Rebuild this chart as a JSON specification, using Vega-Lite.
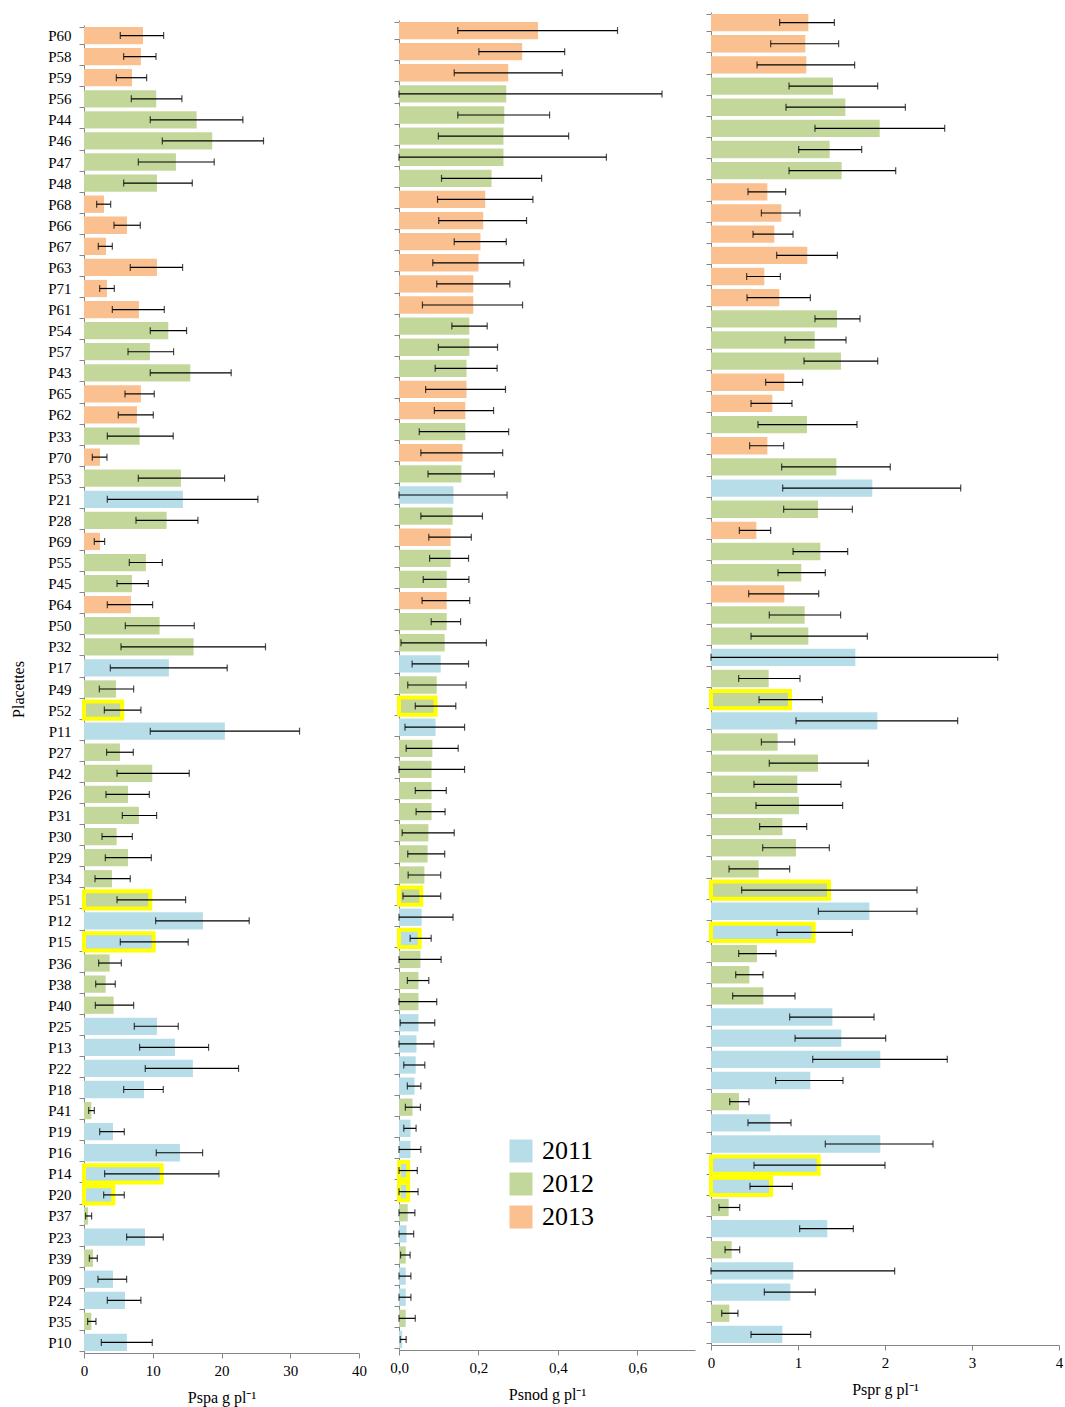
{
  "$schema": "https://vega.github.io/schema/vega-lite/v6.json",
  "background": "white",
  "padding": {"left": 10, "top": 5, "right": 2, "bottom": 2},
  "config": {
    "font": "Liberation Serif",
    "view": {"stroke": null},
    "legend": {"labelFont": "Liberation Serif"},
    "axis": {
      "domainColor": "#868686", "tickColor": "#868686", "labelColor": "black", "titleColor": "black",
      "titleFontWeight": "normal", "grid": false, "tickSize": 5, "labelFontSize": 15, "titleFontSize": 16,
      "labelFont": "Liberation Serif", "titleFont": "Liberation Serif"
    }
  },
  "data": {"values": [
    {"P":"P60","year":"2013","spa":8.58,"spa_lo":5.28,"spa_hi":11.58,"snod":0.350,"snod_lo":0.148,"snod_hi":0.550,"spr":1.119,"spr_lo":0.789,"spr_hi":1.418},
    {"P":"P58","year":"2013","spa":8.28,"spa_lo":5.77,"spa_hi":10.47,"snod":0.310,"snod_lo":0.201,"snod_hi":0.417,"spr":1.084,"spr_lo":0.686,"spr_hi":1.467},
    {"P":"P59","year":"2013","spa":6.98,"spa_lo":4.70,"spa_hi":9.11,"snod":0.275,"snod_lo":0.139,"snod_hi":0.411,"spr":1.096,"spr_lo":0.529,"spr_hi":1.651},
    {"P":"P56","year":"2012","spa":10.51,"spa_lo":6.88,"spa_hi":14.24,"snod":0.270,"snod_lo":0,"snod_hi":0.662,"spr":1.402,"spr_lo":0.897,"spr_hi":1.916},
    {"P":"P44","year":"2012","spa":16.38,"spa_lo":9.64,"spa_hi":23.11,"snod":0.265,"snod_lo":0.148,"snod_hi":0.379,"spr":1.544,"spr_lo":0.862,"spr_hi":2.234},
    {"P":"P46","year":"2012","spa":18.65,"spa_lo":11.39,"spa_hi":26.11,"snod":0.263,"snod_lo":0.099,"snod_hi":0.427,"spr":1.939,"spr_lo":1.195,"spr_hi":2.686},
    {"P":"P47","year":"2012","spa":13.37,"spa_lo":7.90,"spa_hi":18.94,"snod":0.263,"snod_lo":0,"snod_hi":0.522,"spr":1.364,"spr_lo":1.008,"spr_hi":1.732},
    {"P":"P48","year":"2012","spa":10.61,"spa_lo":5.77,"spa_hi":15.75,"snod":0.233,"snod_lo":0.107,"snod_hi":0.359,"spr":1.502,"spr_lo":0.897,"spr_hi":2.123},
    {"P":"P68","year":"2013","spa":2.91,"spa_lo":1.84,"spa_hi":3.88,"snod":0.217,"snod_lo":0.097,"snod_hi":0.337,"spr":0.648,"spr_lo":0.425,"spr_hi":0.858},
    {"P":"P66","year":"2013","spa":6.25,"spa_lo":4.36,"spa_hi":8.19,"snod":0.212,"snod_lo":0.100,"snod_hi":0.321,"spr":0.808,"spr_lo":0.579,"spr_hi":1.023},
    {"P":"P67","year":"2013","spa":3.20,"spa_lo":2.08,"spa_hi":4.12,"snod":0.205,"snod_lo":0.139,"snod_hi":0.270,"spr":0.728,"spr_lo":0.483,"spr_hi":0.943},
    {"P":"P63","year":"2013","spa":10.61,"spa_lo":6.73,"spa_hi":14.34,"snod":0.200,"snod_lo":0.085,"snod_hi":0.314,"spr":1.107,"spr_lo":0.755,"spr_hi":1.452},
    {"P":"P71","year":"2013","spa":3.34,"spa_lo":2.28,"spa_hi":4.41,"snod":0.187,"snod_lo":0.095,"snod_hi":0.279,"spr":0.613,"spr_lo":0.410,"spr_hi":0.797},
    {"P":"P61","year":"2013","spa":7.99,"spa_lo":4.12,"spa_hi":11.68,"snod":0.187,"snod_lo":0.059,"snod_hi":0.311,"spr":0.785,"spr_lo":0.414,"spr_hi":1.142},
    {"P":"P54","year":"2012","spa":12.26,"spa_lo":9.64,"spa_hi":14.92,"snod":0.177,"snod_lo":0.133,"snod_hi":0.222,"spr":1.448,"spr_lo":1.195,"spr_hi":1.713},
    {"P":"P57","year":"2012","spa":9.59,"spa_lo":6.40,"spa_hi":13.03,"snod":0.177,"snod_lo":0.099,"snod_hi":0.248,"spr":1.192,"spr_lo":0.851,"spr_hi":1.552},
    {"P":"P43","year":"2012","spa":15.46,"spa_lo":9.64,"spa_hi":21.41,"snod":0.170,"snod_lo":0.091,"snod_hi":0.247,"spr":1.494,"spr_lo":1.069,"spr_hi":1.916},
    {"P":"P65","year":"2013","spa":8.28,"spa_lo":5.96,"spa_hi":10.22,"snod":0.170,"snod_lo":0.067,"snod_hi":0.268,"spr":0.843,"spr_lo":0.628,"spr_hi":1.054},
    {"P":"P62","year":"2013","spa":7.70,"spa_lo":4.99,"spa_hi":10.08,"snod":0.167,"snod_lo":0.089,"snod_hi":0.238,"spr":0.705,"spr_lo":0.460,"spr_hi":0.931},
    {"P":"P33","year":"2012","spa":8.09,"spa_lo":3.39,"spa_hi":12.98,"snod":0.167,"snod_lo":0.051,"snod_hi":0.276,"spr":1.103,"spr_lo":0.540,"spr_hi":1.678},
    {"P":"P70","year":"2013","spa":2.33,"spa_lo":1.21,"spa_hi":3.34,"snod":0.160,"snod_lo":0.055,"snod_hi":0.261,"spr":0.648,"spr_lo":0.444,"spr_hi":0.835},
    {"P":"P53","year":"2012","spa":14.10,"spa_lo":7.90,"spa_hi":20.45,"snod":0.157,"snod_lo":0.073,"snod_hi":0.240,"spr":1.441,"spr_lo":0.812,"spr_hi":2.061},
    {"P":"P21","year":"2011","spa":14.39,"spa_lo":3.39,"spa_hi":25.29,"snod":0.137,"snod_lo":0,"snod_hi":0.272,"spr":1.854,"spr_lo":0.824,"spr_hi":2.870},
    {"P":"P28","year":"2012","spa":12.02,"spa_lo":7.56,"spa_hi":16.57,"snod":0.135,"snod_lo":0.055,"snod_hi":0.210,"spr":1.230,"spr_lo":0.835,"spr_hi":1.625},
    {"P":"P69","year":"2013","spa":2.33,"spa_lo":1.50,"spa_hi":3.00,"snod":0.130,"snod_lo":0.075,"snod_hi":0.182,"spr":0.521,"spr_lo":0.326,"spr_hi":0.686},
    {"P":"P55","year":"2012","spa":9.01,"spa_lo":6.59,"spa_hi":11.39,"snod":0.130,"snod_lo":0.077,"snod_hi":0.175,"spr":1.257,"spr_lo":0.943,"spr_hi":1.571},
    {"P":"P45","year":"2012","spa":6.98,"spa_lo":4.80,"spa_hi":9.35,"snod":0.120,"snod_lo":0.061,"snod_hi":0.176,"spr":1.038,"spr_lo":0.770,"spr_hi":1.314},
    {"P":"P64","year":"2013","spa":6.83,"spa_lo":3.39,"spa_hi":9.98,"snod":0.120,"snod_lo":0.058,"snod_hi":0.178,"spr":0.843,"spr_lo":0.433,"spr_hi":1.238},
    {"P":"P50","year":"2012","spa":11.00,"spa_lo":6.01,"spa_hi":16.04,"snod":0.120,"snod_lo":0.081,"snod_hi":0.155,"spr":1.077,"spr_lo":0.670,"spr_hi":1.490},
    {"P":"P32","year":"2012","spa":15.94,"spa_lo":5.38,"spa_hi":26.40,"snod":0.115,"snod_lo":0.005,"snod_hi":0.220,"spr":1.119,"spr_lo":0.460,"spr_hi":1.797},
    {"P":"P17","year":"2011","spa":12.35,"spa_lo":3.83,"spa_hi":20.83,"snod":0.105,"snod_lo":0.033,"snod_hi":0.175,"spr":1.659,"spr_lo":0,"spr_hi":3.295},
    {"P":"P49","year":"2012","spa":4.65,"spa_lo":2.23,"spa_hi":7.22,"snod":0.095,"snod_lo":0.022,"snod_hi":0.169,"spr":0.663,"spr_lo":0.318,"spr_hi":1.023},
    {"P":"P52","year":"2012","spa":5.55,"spa_lo":2.96,"spa_hi":8.28,"snod":0.092,"snod_lo":0.041,"snod_hi":0.143,"spr":0.908,"spr_lo":0.552,"spr_hi":1.280},
    {"P":"P11","year":"2011","spa":20.49,"spa_lo":9.64,"spa_hi":31.35,"snod":0.092,"snod_lo":0.015,"snod_hi":0.165,"spr":1.912,"spr_lo":0.977,"spr_hi":2.835},
    {"P":"P27","year":"2012","spa":5.23,"spa_lo":3.29,"spa_hi":7.17,"snod":0.084,"snod_lo":0.018,"snod_hi":0.149,"spr":0.766,"spr_lo":0.579,"spr_hi":0.962},
    {"P":"P42","year":"2012","spa":9.93,"spa_lo":4.80,"spa_hi":15.31,"snod":0.082,"snod_lo":0,"snod_hi":0.165,"spr":1.230,"spr_lo":0.670,"spr_hi":1.808},
    {"P":"P26","year":"2012","spa":6.40,"spa_lo":3.20,"spa_hi":9.50,"snod":0.082,"snod_lo":0.041,"snod_hi":0.119,"spr":0.992,"spr_lo":0.494,"spr_hi":1.494},
    {"P":"P31","year":"2012","spa":7.99,"spa_lo":5.57,"spa_hi":10.56,"snod":0.082,"snod_lo":0.043,"snod_hi":0.116,"spr":1.011,"spr_lo":0.517,"spr_hi":1.513},
    {"P":"P30","year":"2012","spa":4.75,"spa_lo":2.62,"spa_hi":7.03,"snod":0.074,"snod_lo":0.008,"snod_hi":0.139,"spr":0.820,"spr_lo":0.559,"spr_hi":1.100},
    {"P":"P29","year":"2012","spa":6.40,"spa_lo":3.10,"spa_hi":9.79,"snod":0.072,"snod_lo":0.022,"snod_hi":0.115,"spr":0.977,"spr_lo":0.594,"spr_hi":1.360},
    {"P":"P34","year":"2012","spa":4.07,"spa_lo":1.60,"spa_hi":6.73,"snod":0.064,"snod_lo":0.023,"snod_hi":0.105,"spr":0.548,"spr_lo":0.207,"spr_hi":0.904},
    {"P":"P51","year":"2012","spa":9.64,"spa_lo":4.80,"spa_hi":14.78,"snod":0.056,"snod_lo":0.010,"snod_hi":0.105,"spr":1.356,"spr_lo":0.352,"spr_hi":2.368},
    {"P":"P12","year":"2011","spa":17.30,"spa_lo":10.42,"spa_hi":24.03,"snod":0.057,"snod_lo":0,"snod_hi":0.136,"spr":1.820,"spr_lo":1.234,"spr_hi":2.368},
    {"P":"P15","year":"2011","spa":10.13,"spa_lo":5.28,"spa_hi":15.16,"snod":0.052,"snod_lo":0.028,"snod_hi":0.081,"spr":1.180,"spr_lo":0.759,"spr_hi":1.625},
    {"P":"P36","year":"2012","spa":3.73,"spa_lo":2.13,"spa_hi":5.43,"snod":0.054,"snod_lo":0,"snod_hi":0.106,"spr":0.529,"spr_lo":0.318,"spr_hi":0.747},
    {"P":"P38","year":"2012","spa":3.15,"spa_lo":1.70,"spa_hi":4.55,"snod":0.049,"snod_lo":0.021,"snod_hi":0.075,"spr":0.441,"spr_lo":0.284,"spr_hi":0.598},
    {"P":"P40","year":"2012","spa":4.31,"spa_lo":1.65,"spa_hi":7.22,"snod":0.049,"snod_lo":0,"snod_hi":0.095,"spr":0.602,"spr_lo":0.249,"spr_hi":0.966},
    {"P":"P25","year":"2011","spa":10.61,"spa_lo":7.32,"spa_hi":13.71,"snod":0.049,"snod_lo":0.003,"snod_hi":0.090,"spr":1.395,"spr_lo":0.904,"spr_hi":1.874},
    {"P":"P13","year":"2011","spa":13.23,"spa_lo":8.09,"spa_hi":18.12,"snod":0.044,"snod_lo":0,"snod_hi":0.088,"spr":1.498,"spr_lo":0.966,"spr_hi":2.008},
    {"P":"P22","year":"2011","spa":15.84,"spa_lo":8.91,"spa_hi":22.48,"snod":0.042,"snod_lo":0.012,"snod_hi":0.065,"spr":1.946,"spr_lo":1.169,"spr_hi":2.716},
    {"P":"P18","year":"2011","spa":8.72,"spa_lo":5.77,"spa_hi":11.53,"snod":0.039,"snod_lo":0.021,"snod_hi":0.055,"spr":1.142,"spr_lo":0.743,"spr_hi":1.517},
    {"P":"P41","year":"2012","spa":1.07,"spa_lo":0.68,"spa_hi":1.50,"snod":0.034,"snod_lo":0.016,"snod_hi":0.054,"spr":0.322,"spr_lo":0.215,"spr_hi":0.437},
    {"P":"P19","year":"2011","spa":4.22,"spa_lo":2.28,"spa_hi":5.86,"snod":0.029,"snod_lo":0.012,"snod_hi":0.043,"spr":0.682,"spr_lo":0.425,"spr_hi":0.920},
    {"P":"P16","year":"2011","spa":13.95,"spa_lo":10.51,"spa_hi":17.25,"snod":0.029,"snod_lo":0,"snod_hi":0.055,"spr":1.946,"spr_lo":1.314,"spr_hi":2.552},
    {"P":"P14","year":"2011","spa":11.29,"spa_lo":3.00,"spa_hi":19.62,"snod":0.023,"snod_lo":0,"snod_hi":0.046,"spr":1.238,"spr_lo":0.494,"spr_hi":2.000},
    {"P":"P20","year":"2011","spa":4.26,"spa_lo":2.86,"spa_hi":5.86,"snod":0.023,"snod_lo":0,"snod_hi":0.048,"spr":0.690,"spr_lo":0.448,"spr_hi":0.935},
    {"P":"P37","year":"2012","spa":0.58,"spa_lo":0.24,"spa_hi":1.11,"snod":0.022,"snod_lo":0,"snod_hi":0.040,"spr":0.203,"spr_lo":0.092,"spr_hi":0.330},
    {"P":"P23","year":"2011","spa":8.87,"spa_lo":6.20,"spa_hi":11.53,"snod":0.019,"snod_lo":0,"snod_hi":0.037,"spr":1.337,"spr_lo":1.019,"spr_hi":1.636},
    {"P":"P39","year":"2012","spa":1.31,"spa_lo":0.78,"spa_hi":1.94,"snod":0.017,"snod_lo":0.004,"snod_hi":0.028,"spr":0.238,"spr_lo":0.161,"spr_hi":0.330},
    {"P":"P09","year":"2011","spa":4.22,"spa_lo":2.03,"spa_hi":6.20,"snod":0.017,"snod_lo":0,"snod_hi":0.030,"spr":0.946,"spr_lo":0,"spr_hi":2.111},
    {"P":"P24","year":"2011","spa":5.96,"spa_lo":3.39,"spa_hi":8.28,"snod":0.017,"snod_lo":0,"snod_hi":0.030,"spr":0.912,"spr_lo":0.613,"spr_hi":1.199},
    {"P":"P35","year":"2012","spa":1.07,"spa_lo":0.53,"spa_hi":1.74,"snod":0.017,"snod_lo":0,"snod_hi":0.041,"spr":0.211,"spr_lo":0.123,"spr_hi":0.310},
    {"P":"P10","year":"2011","spa":6.25,"spa_lo":2.52,"spa_hi":9.93,"snod":0.008,"snod_lo":0.003,"snod_hi":0.018,"spr":0.820,"spr_lo":0.460,"spr_hi":1.146}
  ]},
  "spacing": 16,
  "bounds": "flush",
  "resolve": {"scale": {"color": "independent", "x": "independent", "y": "independent"}},
  "hconcat": [
    {
      "width": 299, "height": 1341,
      "encoding": {
        "y": {"field": "P", "type": "nominal", "sort": null,
          "scale": {"range": [13, 1341], "paddingInner": 0.18, "paddingOuter": 0.09},
          "axis": {"title": "Placettes", "titleFontSize": 16, "labelFontSize": 15, "tickBand": "extent", "labelPadding": 8, "titlePadding": 21}}
      },
      "layer": [
        {"mark": {"type": "bar", "stroke": "#FFFF00"},
         "encoding": {
           "x": {"field": "spa", "type": "quantitative", "title": "Pspa g pl⁻¹",
             "scale": {"domain": [0, 40], "range": [0, 275], "nice": false},
             "axis": {"values": [0, 10, 20, 30, 40], "format": "d", "labelPadding": 5, "titlePadding": 11, "labelFlush": false}},
           "color": {"field": "year", "type": "nominal", "scale": {"domain": ["2011", "2012", "2013"], "range": ["#B7DDE8", "#C4D79B", "#FAC090"]}, "legend": null},
           "strokeWidth": {"condition": {"test": "indexof(['P52','P51','P15','P14','P20'], datum.P) >= 0", "value": 4}, "value": 0}
         }},
        {"mark": {"type": "rule", "color": "black", "strokeWidth": 1.2},
         "encoding": {"x": {"field": "spa_lo", "type": "quantitative", "title": "Pspa g pl⁻¹"}, "x2": {"field": "spa_hi"}}},
        {"mark": {"type": "tick", "color": "black", "size": 7, "thickness": 1.2},
         "encoding": {"x": {"field": "spa_lo", "type": "quantitative", "title": "Pspa g pl⁻¹"}}},
        {"mark": {"type": "tick", "color": "black", "size": 7, "thickness": 1.2},
         "encoding": {"x": {"field": "spa_hi", "type": "quantitative", "title": "Pspa g pl⁻¹"}}}
      ]
    },
    {
      "width": 296, "height": 1338,
      "encoding": {
        "y": {"field": "P", "type": "nominal", "sort": null,
          "scale": {"range": [8, 1338], "paddingInner": 0.18, "paddingOuter": 0.09},
          "axis": {"title": null, "labels": false, "tickBand": "extent"}}
      },
      "layer": [
        {"mark": {"type": "bar", "stroke": "#FFFF00"},
         "encoding": {
           "x": {"field": "snod", "type": "quantitative", "title": "Psnod g pl⁻¹",
             "scale": {"domain": [0, 0.745], "nice": false},
             "axis": {"values": [0, 0.2, 0.4, 0.6], "labelExpr": "replace(format(datum.value, '.1f'), '.', ',')", "labelPadding": 5, "titlePadding": 11, "labelFlush": false}},
           "color": {"field": "year", "type": "nominal", "scale": {"domain": ["2011", "2012", "2013"], "range": ["#B7DDE8", "#C4D79B", "#FAC090"]},
             "legend": {"orient": "none", "legendX": 109, "legendY": 1126, "title": null, "symbolType": "square", "symbolSize": 529, "symbolStrokeWidth": 0, "labelFontSize": 26, "labelFont": "Liberation Serif", "labelColor": "black", "labelOffset": 8, "rowPadding": 7, "padding": 0}},
           "strokeWidth": {"condition": {"test": "indexof(['P52','P51','P15','P14','P20'], datum.P) >= 0", "value": 4}, "value": 0}
         }},
        {"mark": {"type": "rule", "color": "black", "strokeWidth": 1.2},
         "encoding": {"x": {"field": "snod_lo", "type": "quantitative", "title": "Psnod g pl⁻¹"}, "x2": {"field": "snod_hi"}}},
        {"mark": {"type": "tick", "color": "black", "size": 7, "thickness": 1.2},
         "encoding": {"x": {"field": "snod_lo", "type": "quantitative", "title": "Psnod g pl⁻¹"}}},
        {"mark": {"type": "tick", "color": "black", "size": 7, "thickness": 1.2},
         "encoding": {"x": {"field": "snod_hi", "type": "quantitative", "title": "Psnod g pl⁻¹"}}}
      ]
    },
    {
      "width": 348, "height": 1333,
      "encoding": {
        "y": {"field": "P", "type": "nominal", "sort": null,
          "scale": {"range": [0, 1333], "paddingInner": 0.18, "paddingOuter": 0.09},
          "axis": {"title": null, "labels": false, "tickBand": "extent"}}
      },
      "layer": [
        {"mark": {"type": "bar", "stroke": "#FFFF00"},
         "encoding": {
           "x": {"field": "spr", "type": "quantitative", "title": "Pspr g pl⁻¹",
             "scale": {"domain": [0, 4], "nice": false},
             "axis": {"values": [0, 1, 2, 3, 4], "format": "d", "labelPadding": 5, "titlePadding": 11, "labelFlush": false}},
           "color": {"field": "year", "type": "nominal", "scale": {"domain": ["2011", "2012", "2013"], "range": ["#B7DDE8", "#C4D79B", "#FAC090"]}, "legend": null},
           "strokeWidth": {"condition": {"test": "indexof(['P52','P51','P15','P14','P20'], datum.P) >= 0", "value": 4}, "value": 0}
         }},
        {"mark": {"type": "rule", "color": "black", "strokeWidth": 1.2},
         "encoding": {"x": {"field": "spr_lo", "type": "quantitative", "title": "Pspr g pl⁻¹"}, "x2": {"field": "spr_hi"}}},
        {"mark": {"type": "tick", "color": "black", "size": 7, "thickness": 1.2},
         "encoding": {"x": {"field": "spr_lo", "type": "quantitative", "title": "Pspr g pl⁻¹"}}},
        {"mark": {"type": "tick", "color": "black", "size": 7, "thickness": 1.2},
         "encoding": {"x": {"field": "spr_hi", "type": "quantitative", "title": "Pspr g pl⁻¹"}}}
      ]
    }
  ]
}
